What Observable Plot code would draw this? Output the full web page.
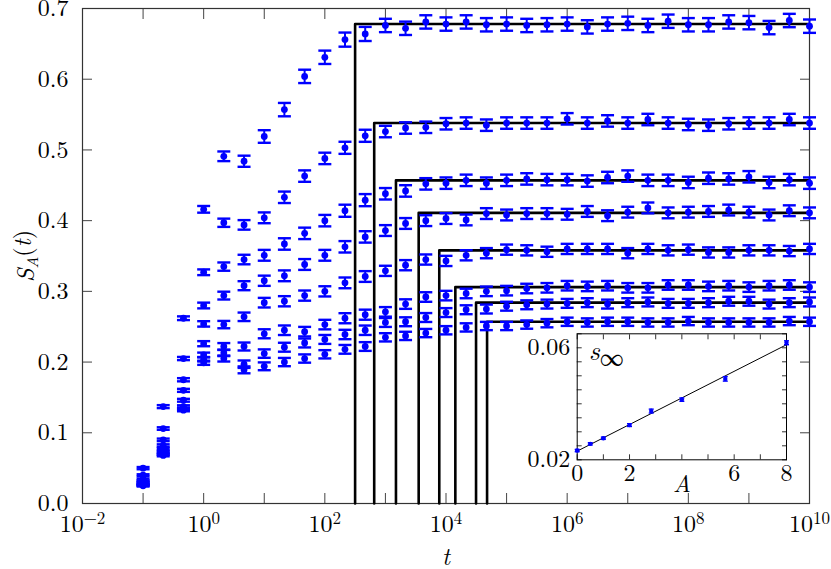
<!DOCTYPE html>
<html><head><meta charset="utf-8">
<script src="https://cdn.jsdelivr.net/npm/d3@7"></script>
<script src="https://cdn.jsdelivr.net/npm/@observablehq/plot@0.6"></script>
<style>
body{margin:0;background:#fff;}
#wrap{position:relative;width:831px;height:569px;overflow:hidden;}
#wrap svg{position:absolute;overflow:visible;}
</style></head><body><div id="wrap"></div>
<script>
// ---------- data ----------
const times = [0.1, 0.215, 0.464, 1, 2.15, 4.64, 10, 21.5, 46.4, 100, 215, 464, 1000, 2150, 4640,
  1e4, 2.15e4, 4.64e4, 1e5, 2.15e5, 4.64e5, 1e6, 2.15e6, 4.64e6, 1e7, 2.15e7, 4.64e7,
  1e8, 2.15e8, 4.64e8, 1e9, 2.15e9, 4.64e9, 1e10];

const S1 = [0.050,0.137,0.262,0.416,0.491,0.484,0.519,0.557,0.604,0.631,0.656,0.664,0.676,0.672,0.681,0.678,0.681,0.677,0.678,0.676,0.677,0.678,0.674,0.678,0.679,0.676,0.682,0.677,0.677,0.681,0.680,0.673,0.683,0.675];
const S2 = [0.040,0.106,0.205,0.327,0.397,0.394,0.404,0.433,0.463,0.488,0.503,0.520,0.526,0.531,0.532,0.537,0.538,0.535,0.538,0.538,0.538,0.544,0.538,0.541,0.538,0.543,0.538,0.536,0.535,0.537,0.538,0.538,0.543,0.538];
const S3 = [0.034,0.090,0.175,0.280,0.335,0.345,0.351,0.367,0.382,0.400,0.414,0.429,0.438,0.442,0.452,0.453,0.457,0.453,0.457,0.459,0.458,0.458,0.456,0.461,0.463,0.457,0.457,0.454,0.460,0.459,0.462,0.454,0.458,0.453];
const S4 = [0.031,0.082,0.160,0.254,0.294,0.308,0.315,0.322,0.338,0.351,0.363,0.377,0.386,0.396,0.400,0.403,0.401,0.410,0.408,0.410,0.410,0.409,0.413,0.407,0.412,0.418,0.411,0.412,0.413,0.415,0.412,0.408,0.414,0.411];
const S5 = [0.029,0.077,0.146,0.226,0.253,0.264,0.284,0.286,0.294,0.300,0.312,0.321,0.329,0.337,0.345,0.343,0.351,0.354,0.359,0.358,0.356,0.360,0.360,0.360,0.354,0.360,0.358,0.359,0.355,0.355,0.358,0.358,0.357,0.360];
const S6 = [0.027,0.073,0.137,0.210,0.222,0.222,0.240,0.245,0.243,0.253,0.262,0.267,0.271,0.282,0.292,0.294,0.297,0.300,0.301,0.304,0.305,0.308,0.307,0.308,0.305,0.305,0.309,0.309,0.307,0.308,0.306,0.308,0.309,0.306];
const S7 = [0.026,0.070,0.134,0.204,0.213,0.197,0.212,0.221,0.227,0.232,0.239,0.245,0.256,0.257,0.263,0.270,0.274,0.275,0.279,0.281,0.282,0.283,0.284,0.282,0.284,0.285,0.283,0.283,0.284,0.286,0.286,0.282,0.284,0.285];
const S8 = [0.025,0.068,0.132,0.199,0.205,0.189,0.194,0.200,0.205,0.211,0.218,0.222,0.235,0.237,0.241,0.245,0.249,0.251,0.251,0.253,0.255,0.257,0.256,0.257,0.257,0.256,0.256,0.258,0.256,0.256,0.256,0.256,0.258,0.257];
const seriesValues = [S1, S2, S3, S4, S5, S6, S7, S8];

// error bar half-widths: per time point, and per series scale
const errByTime = [0.0015,0.002,0.0025,0.0045,0.0065,0.0075,0.0085,0.009,0.009,0.009,0.0095,0.0095,0.009,0.009,0.009,0.009,0.009,0.009,0.009,0.009,0.009,0.009,0.009,0.009,0.009,0.009,0.009,0.009,0.009,0.009,0.009,0.009,0.009,0.009];
const errSeriesScale = [1.05, 0.9, 0.9, 0.85, 0.8, 0.75, 0.7, 0.65];

// saturation (step) lines
const stepTimes = [316, 653, 1493, 3540, 7745, 14260, 31330, 47640];
const plateaus  = [0.678, 0.538, 0.457, 0.411, 0.358, 0.306, 0.284, 0.257];

// axes
const xTicks = [1e-2,1e-1,1e0,1e1,1e2,1e3,1e4,1e5,1e6,1e7,1e8,1e9,1e10];
const xLabelTicks = [1e-2,1e0,1e2,1e4,1e6,1e8,1e10];
const yTicks = [0,0.1,0.2,0.3,0.4,0.5,0.6,0.7];

// inset
const insetA = [0, 0.5, 1, 2, 2.83, 4, 5.66, 8];
const insetS = [0.0233, 0.0257, 0.0277, 0.0324, 0.0374, 0.0415, 0.0489, 0.0618];
const insetErr = [0.0004, 0.0004, 0.0004, 0.0005, 0.0007, 0.0006, 0.0008, 0.0007];
const fitA = [0, 8];
const fitS = [0.0231, 0.0611];
const insetXTicks = [0,1,2,3,4,5,6,7,8];
const insetXLabels = [0,2,6,8];
const insetYTicks = [0.02,0.025,0.03,0.035,0.04,0.045,0.05,0.055,0.06,0.065];
const insetYLabels = [0.02, 0.06];

// ---------- build tables ----------
const rows = [];
seriesValues.forEach((vals, i) => vals.forEach((v, k) => {
  const e = errByTime[k] * errSeriesScale[i];
  rows.push({t: times[k], v, lo: v - e, hi: v + e, s: i});
}));
const stepRows = [];
stepTimes.forEach((ts, i) => {
  stepRows.push({t: ts, v: 0, s: i});
  stepRows.push({t: ts, v: plateaus[i], s: i});
  stepRows.push({t: xTicks[xTicks.length - 1], v: plateaus[i], s: i});
});
const insetRows = insetA.map((a, i) => ({A: a, s: insetS[i], lo: insetS[i] - insetErr[i], hi: insetS[i] + insetErr[i]}));
const fitRows = fitA.map((a, i) => ({A: a, s: fitS[i]}));

const FONT = "'Latin Modern Roman','CMU Serif','Liberation Serif','DejaVu Serif',serif";
const blue = "#0000ff";
const cap = {draw(ctx, size) { const w = Math.sqrt(size / Math.PI); ctx.moveTo(-w, 0); ctx.lineTo(w, 0); }};
const noLab = () => "";

const main = Plot.plot({
  width: 831, height: 569,
  marginLeft: 82, marginRight: 22, marginTop: 8, marginBottom: 66,
  style: {fontFamily: FONT, fontSize: "24px", color: "#000", background: "transparent", overflow: "visible"},
  x: {type: "log", domain: [1e-2, 1e10], label: null},
  y: {domain: [0, 0.7], label: null},
  marks: [
    Plot.axisX(xTicks, {anchor: "bottom", tickSize: -10, tickFormat: noLab, label: null, stroke: "#444"}),
    Plot.axisX(xTicks, {anchor: "top", tickSize: -10, tickFormat: noLab, label: null, stroke: "#444"}),
    Plot.axisX(xLabelTicks, {anchor: "bottom", tickSize: 0, tickPadding: 11, label: "t", labelAnchor: "center", labelOffset: 61, labelArrow: "none",
      tickFormat: d => "10^" + Math.round(Math.log10(d)), fontSize: 24}),
    Plot.axisY(yTicks, {anchor: "left", tickSize: -10, tickFormat: noLab, label: null, stroke: "#444"}),
    Plot.axisY(yTicks, {anchor: "right", tickSize: -10, tickFormat: noLab, label: null, stroke: "#444"}),
    Plot.axisY(yTicks, {anchor: "left", tickSize: 0, tickPadding: 14, tickFormat: d => d.toFixed(1), label: "S", labelAnchor: "center", labelOffset: 66, labelArrow: "none", fontSize: 24}),
    Plot.frame({stroke: "#333", strokeWidth: 1.2}),
    Plot.line(stepRows, {x: "t", y: "v", z: "s", stroke: "#000", strokeWidth: 2.6}),
    Plot.ruleX(rows, {x: "t", y1: "lo", y2: "hi", stroke: blue, strokeWidth: 2}),
    Plot.dot(rows, {x: "t", y: "lo", symbol: cap, r: 6.5, stroke: blue, fill: "none", strokeWidth: 2.4}),
    Plot.dot(rows, {x: "t", y: "hi", symbol: cap, r: 6.5, stroke: blue, fill: "none", strokeWidth: 2.4}),
    Plot.dot(rows, {x: "t", y: "v", r: 3.4, fill: blue, stroke: "none"})
  ]
});
main.style.left = "0px"; main.style.top = "0px";

const inset = Plot.plot({
  width: 290, height: 180,
  marginLeft: 66.7, marginRight: 14, marginTop: 8.3, marginBottom: 45.7,
  style: {fontFamily: FONT, fontSize: "24px", color: "#000", background: "transparent", overflow: "visible"},
  x: {domain: [0, 8], label: null},
  y: {domain: [0.02, 0.065], label: null},
  marks: [
    Plot.axisX(insetXTicks, {anchor: "bottom", tickSize: -5, tickFormat: noLab, label: null, stroke: "#333"}),
    Plot.axisX(insetXTicks, {anchor: "top", tickSize: -5, tickFormat: noLab, label: null, stroke: "#333"}),
    Plot.axisX(insetXLabels, {anchor: "bottom", tickSize: 0, tickPadding: 4, label: "A", labelAnchor: "center", labelOffset: 32, labelArrow: "none", tickFormat: d => String(d), fontSize: 24}),
    Plot.axisY(insetYTicks, {anchor: "left", tickSize: -5, tickFormat: noLab, label: null, stroke: "#333"}),
    Plot.axisY(insetYTicks, {anchor: "right", tickSize: -5, tickFormat: noLab, label: null, stroke: "#333"}),
    Plot.axisY(insetYLabels, {anchor: "left", tickSize: 0, tickPadding: 7, label: null, tickFormat: d => d.toFixed(2), fontSize: 24}),
    Plot.frame({stroke: "#000", strokeWidth: 1}),
    Plot.line(fitRows, {x: "A", y: "s", stroke: "#000", strokeWidth: 1}),
    Plot.ruleX(insetRows, {x: "A", y1: "lo", y2: "hi", stroke: blue, strokeWidth: 1.6}),
    Plot.dot(insetRows, {x: "A", y: "lo", symbol: cap, r: 2.5, stroke: blue, fill: "none", strokeWidth: 1.4}),
    Plot.dot(insetRows, {x: "A", y: "hi", symbol: cap, r: 2.5, stroke: blue, fill: "none", strokeWidth: 1.4}),
    Plot.dot(insetRows, {x: "A", y: "s", r: 2.2, fill: blue, stroke: "none"})
  ]
});
inset.style.left = "510px"; inset.style.top = "325px";

const wrap = document.getElementById("wrap");
wrap.appendChild(main);
wrap.appendChild(inset);

// ---------- text post-processing (superscripts, italics) ----------
const NS = "http://www.w3.org/2000/svg";
function tspan(txt, attrs) {
  const t = document.createElementNS(NS, "tspan");
  for (const k in attrs) t.setAttribute(k, attrs[k]);
  t.textContent = txt;
  return t;
}
main.querySelectorAll("text").forEach(el => {
  const m = el.textContent.match(/^10\^(-?\d+)$/);
  if (m) {
    el.textContent = "";
    el.appendChild(tspan("10", {}));
    el.appendChild(tspan(m[1].replace("-", "\u2212"), {dy: "-0.42em", "font-size": "17px"}));
  }
});
const xl = main.querySelector('g[aria-label="x-axis label"] text');
if (xl) { xl.setAttribute("font-style", "italic"); }
const yl = main.querySelector('g[aria-label="y-axis label"] text');
if (yl) {
  yl.textContent = "";
  yl.appendChild(tspan("S", {"font-style": "italic"}));
  yl.appendChild(tspan("A", {"font-style": "italic", "font-size": "16px", dy: "0.3em"}));
  yl.appendChild(tspan("(", {dy: "-0.3em"}));
  yl.appendChild(tspan("t", {"font-style": "italic"}));
  yl.appendChild(tspan(")", {}));
}
const al = inset.querySelector('g[aria-label="x-axis label"] text');
if (al) al.setAttribute("font-style", "italic");
// s_infinity label inside the inset frame
const sl = document.createElementNS(NS, "text");
sl.setAttribute("x", 66.7 + 12); sl.setAttribute("y", 8.3 + 27);
sl.setAttribute("font-family", FONT); sl.setAttribute("font-size", "27px");
sl.setAttribute("text-anchor", "start");
sl.appendChild(tspan("s", {"font-style": "italic"}));
sl.appendChild(tspan("\u221E", {dy: "0.25em", "font-size": "24px"}));
inset.appendChild(sl);
</script></body></html>
